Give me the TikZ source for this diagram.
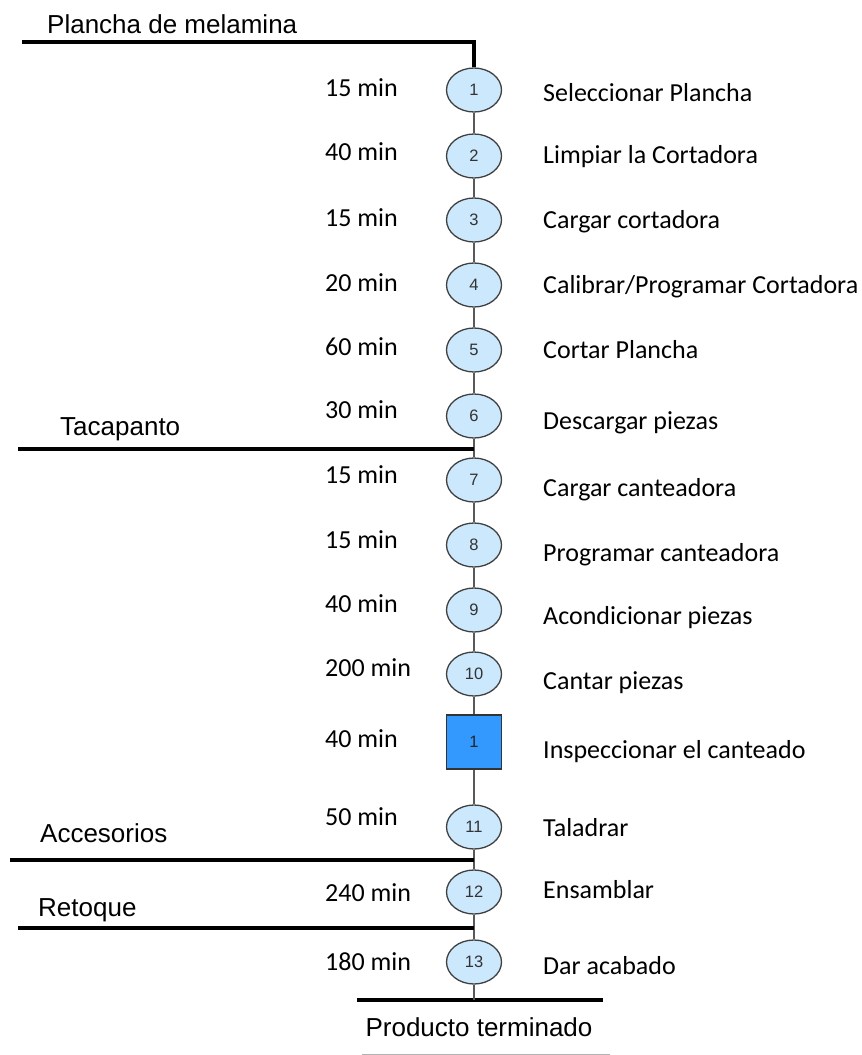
\documentclass[tikz,border=0pt]{standalone}
\usepackage{fontspec}
\setmainfont{Carlito}
\newfontfamily\arialfont{Liberation Sans}
\usetikzlibrary{shapes.geometric,calc}
\definecolor{opfill}{HTML}{CCE8FC}
\definecolor{inspfill}{HTML}{3399FF}

\begin{document}
\begin{tikzpicture}[x=1pt,y=-1pt,
  oper/.style={ellipse,draw=black!75,line width=1.3pt,fill=opfill,minimum width=55pt,minimum height=44pt,inner sep=0pt,text=black!80,font=\arialfont\fontsize{16.5}{16}\selectfont},
  insp/.style={rectangle,draw=black!80,line width=1.3pt,fill=inspfill,minimum width=55pt,minimum height=54pt,inner sep=0pt,text=black!85,font=\arialfont\fontsize{16.5}{16}\selectfont},
  tlabel/.style={anchor=west,inner sep=0pt,font=\fontsize{26}{28}\selectfont},
  dlabel/.style={anchor=west,inner sep=0pt,font=\fontsize{26}{28}\selectfont},
  ilabel/.style={anchor=west,inner sep=0pt,font=\arialfont\fontsize{26}{28}\selectfont},
  flow/.style={draw=black!65,line width=1.6pt},
  feed/.style={draw=black,line width=3.2pt}]
\useasboundingbox (0,0) rectangle (862,1055);

% Operations
\node (op1) at (474,90) [oper] {1};
\node (op2) at (474,156) [oper] {2};
\node (op3) at (474,220) [oper] {3};
\node (op4) at (474,285) [oper] {4};
\node (op5) at (474,350) [oper] {5};
\node (op6) at (474,416) [oper] {6};
\node (op7) at (474,480) [oper] {7};
\node (op8) at (474,545) [oper] {8};
\node (op9) at (474,610) [oper] {9};
\node (op10) at (474,674) [oper] {10};
\node (insp1) at (474,742) [insp] {1};
\node (op11) at (474,827) [oper] {11};
\node (op12) at (474,892) [oper] {12};
\node (op13) at (474,962) [oper] {13};

% Flow
\draw[flow] (op1) -- (op2);
\draw[flow] (op2) -- (op3);
\draw[flow] (op3) -- (op4);
\draw[flow] (op4) -- (op5);
\draw[flow] (op5) -- (op6);
\draw[flow] (op6) -- (op7);
\draw[flow] (op7) -- (op8);
\draw[flow] (op8) -- (op9);
\draw[flow] (op9) -- (op10);
\draw[flow] (op10) -- (insp1);
\draw[flow] (insp1) -- (op11);
\draw[flow] (op11) -- (op12);
\draw[flow] (op12) -- (op13);

% Times
\node (t1) at (325,88) [tlabel] {15 min};
\node (t2) at (325,152) [tlabel] {40 min};
\node (t3) at (325,218) [tlabel] {15 min};
\node (t4) at (325,283) [tlabel] {20 min};
\node (t5) at (325,347) [tlabel] {60 min};
\node (t6) at (325,410) [tlabel] {30 min};
\node (t7) at (325,475) [tlabel] {15 min};
\node (t8) at (325,540) [tlabel] {15 min};
\node (t9) at (325,604) [tlabel] {40 min};
\node (t10) at (325,668) [tlabel] {200 min};
\node (ti1) at (325,739) [tlabel] {40 min};
\node (t11) at (325,817) [tlabel] {50 min};
\node (t12) at (325,893) [tlabel] {240 min};
\node (t13) at (325,962) [tlabel] {180 min};

% Descriptions
\node (d1) at (543,93) [dlabel] {Seleccionar Plancha};
\node (d2) at (543,157) [dlabel] {Limpiar la Cortadora};
\node (d3) at (543,222) [dlabel] {Cargar cortadora};
\node (d4) at (543,287) [dlabel] {Calibrar/Programar Cortadora};
\node (d5) at (543,350) [dlabel] {Cortar Plancha};
\node (d6) at (543,423) [dlabel] {Descargar piezas};
\node (d7) at (543,490) [dlabel] {Cargar canteadora};
\node (d8) at (543,555) [dlabel] {Programar canteadora};
\node (d9) at (543,618) [dlabel] {Acondicionar piezas};
\node (d10) at (543,683) [dlabel] {Cantar piezas};
\node (di1) at (543,752) [dlabel] {Inspeccionar el canteado};
\node (d11) at (543,828) [dlabel] {Taladrar};
\node (d12) at (543,890) [dlabel] {Ensamblar};
\node (d13) at (543,966) [dlabel] {Dar acabado};

% Inputs
\coordinate (planIn) at (22,42);
\coordinate (tacIn) at (18,449);
\coordinate (accIn) at (10,860);
\coordinate (retIn) at (18,928);
\draw[feed] (planIn) -- (planIn -| op1) -- (op1.north);
\draw[feed] (tacIn) -- (tacIn -| op6);
\draw[feed] (accIn) -- (accIn -| op11);
\draw[feed] (retIn) -- (retIn -| op12);
\node (plan) at (47,24) [ilabel] {Plancha de melamina};
\node (tac) at (60,429) [ilabel] {Tacapanto};
\node (acc) at (40,833) [ilabel] {Accesorios};
\node (ret) at (38,910) [ilabel] {Retoque};

% Output
\coordinate (outL) at (357,1000);
\coordinate (outR) at (603,1000);
\draw[feed] (outL) -- (outR);
\draw[flow] (op13) -- (op13 |- outL);
\node (prod) at (479,1027) [ilabel,anchor=center] {Producto terminado};
\coordinate (tabL) at (362,1054);
\coordinate (tabR) at (610,1054);
\draw[black!30,line width=1pt] (tabL) -- (tabR);
\end{tikzpicture}
\end{document}
